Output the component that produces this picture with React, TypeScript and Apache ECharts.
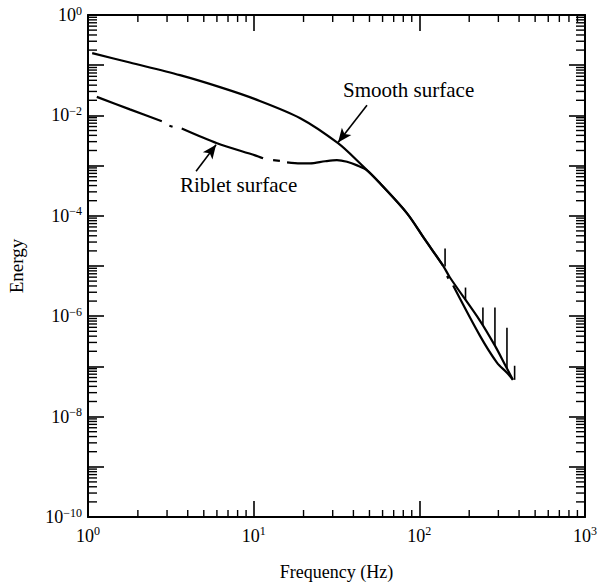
import React, { useEffect, useRef } from "react";
import * as echarts from "echarts";

// Smooth surface spectrum (Hz, energy)
const smoothFreq = [1.06, 1.79, 3.59, 6.26, 10.2, 19.1, 32.3, 43.8, 57.9, 84.3, 108, 139, 153, 232, 286, 329, 367];
const smoothEnergy = [0.174, 0.113, 0.0634, 0.0366, 0.0211, 0.0088, 0.00279, 0.00111, 4.43e-4, 1.12e-4, 3.38e-5, 1.02e-5, 5.9e-6, 8.2e-7, 2.59e-7, 1.08e-7, 5.4e-8];

// Riblet surface spectrum, drawn as dash-dot segments
const ribletSeg1 = [[1.13, 0.0234], [1.79, 0.0132], [2.79, 0.00766]];
const ribletSeg2 = [[3.1, 0.00622], [3.24, 0.00594]];
const ribletSeg3 = [[3.68, 0.00548], [6.01, 0.00279], [10.2, 0.0016], [11.4, 0.0014]];
const ribletSeg4 = [[13.1, 0.00128], [14.4, 0.00124]];
const ribletSeg5 = [
  [15.9, 0.00116], [19.1, 0.00111], [21.9, 0.00111], [27, 0.00122], [31.8, 0.00128],
  [36.6, 0.00119], [42.1, 0.00101], [48.3, 8.05e-4], [57.9, 4.43e-4], [84.3, 1.12e-4],
  [108, 3.38e-5], [139, 1.02e-5],
];
const ribletSeg6 = [[147, 6.3e-6], [150, 5.6e-6]];
const ribletSeg7 = [[160, 4.08e-6], [232, 4.1e-7], [294, 1.19e-7], [338, 7.5e-8], [367, 5.4e-8]];
const ribletSegments = [ribletSeg1, ribletSeg2, ribletSeg3, ribletSeg4, ribletSeg5, ribletSeg6, ribletSeg7];

// Spikes on the smooth-surface curve at high frequency
const spikeFreq = [143, 190, 242, 286, 338, 376];
const spikeTop = [2.24e-5, 3.72e-6, 1.49e-6, 1.49e-6, 5.9e-7, 1.03e-7];
const spikeBase = [9.8e-6, 2.14e-6, 6.5e-7, 2.59e-7, 9.2e-8, 5.4e-8];

// Axis ranges and minor tick multipliers
const xMin = 1, xMax = 1000;
const yMin = 1e-10, yMax = 1;
const xDecades = [1, 10, 100];
const yDecades = [1e-10, 1e-9, 1e-8, 1e-7, 1e-6, 1e-5, 1e-4, 1e-3, 1e-2, 1e-1];
const minorMultipliers = [2, 3, 4, 5, 6, 7, 8, 9];

// Annotation arrows (tail -> tip) in data coordinates
const smoothArrow = [[48.3, 0.016], [32.3, 0.0029]];
const ribletArrow = [[4.49, 7.7e-4], [5.93, 0.0026]];

const FONT = "Liberation Serif";

function supLabel(v: number) {
  const e = Math.round(Math.log10(v));
  const s = e < 0 ? "\u2212" + -e : String(e);
  return `{b|10}{s|${s}}`;
}

const richLabel = {
  b: { fontFamily: FONT, fontSize: 18, color: "#000" },
  s: { fontFamily: FONT, fontSize: 12, color: "#000", verticalAlign: "bottom", padding: [0, 0, 9, 0] },
};

export default function App() {
  const ref = useRef<HTMLDivElement>(null);
  useEffect(() => {
    if (!ref.current) return;
    const chart = echarts.init(ref.current, undefined, { renderer: "svg" });

    const tickData: number[][] = [];
    xDecades.forEach((d) => minorMultipliers.forEach((m) => tickData.push([d * m, 1e-5, 0])));
    yDecades.forEach((d) => minorMultipliers.forEach((m) => tickData.push([10, d * m, 1])));

    const spikeSeries = spikeFreq.map((f, i) => ({
      type: "line",
      data: [[f, spikeBase[i]], [f, spikeTop[i]]],
      showSymbol: false,
      symbol: "none",
      lineStyle: { color: "#000", width: 1.6 },
      silent: true,
    }));

    const ribletSeries = ribletSegments.map((seg) => ({
      type: "line",
      data: seg,
      smooth: 0.3,
      showSymbol: false,
      symbol: "none",
      lineStyle: { color: "#000", width: 2.2 },
      silent: true,
    }));

    const axisCommonX = {
      type: "log",
      logBase: 10,
      min: xMin,
      max: xMax,
      interval: 1,
      splitNumber: 3,
      splitLine: { show: false },
      axisLine: { show: true, onZero: false, lineStyle: { color: "#000", width: 2 } },
      axisTick: { show: true, inside: true, length: 16, lineStyle: { color: "#000", width: 1.6 } },
    };
    const axisCommonY = {
      type: "log",
      logBase: 10,
      min: yMin,
      max: yMax,
      interval: 1,
      splitNumber: 10,
      splitLine: { show: false },
      axisLine: { show: true, onZero: false, lineStyle: { color: "#000", width: 2 } },
      axisTick: { show: true, inside: true, length: 16, lineStyle: { color: "#000", width: 1.6 } },
    };

    chart.setOption({
      animation: false,
      backgroundColor: "#fff",
      grid: { left: 88, right: 14, top: 15, bottom: 68, containLabel: false, outerBoundsMode: "none" },
      xAxis: [
        {
          ...axisCommonX,
          position: "bottom",
          name: "Frequency (Hz)",
          nameLocation: "middle",
          nameGap: 46,
          nameTextStyle: { fontFamily: FONT, fontSize: 18, color: "#000" },
          axisLabel: { show: true, margin: 8, formatter: supLabel, rich: richLabel },
        },
        { ...axisCommonX, position: "top", axisLabel: { show: false } },
      ],
      yAxis: [
        {
          ...axisCommonY,
          position: "left",
          name: "Energy",
          nameLocation: "middle",
          nameGap: 62,
          nameRotate: 90,
          nameTextStyle: { fontFamily: FONT, fontSize: 19, color: "#000" },
          axisLabel: {
            show: true,
            margin: 6,
            showMinLabel: true,
            showMaxLabel: true,
            formatter: (v: number) => {
              const e = Math.round(Math.log10(v));
              return e % 2 === 0 ? supLabel(v) : "";
            },
            rich: richLabel,
          },
        },
        { ...axisCommonY, position: "right", axisLabel: { show: false } },
      ],
      series: [
        {
          type: "custom",
          silent: true,
          clip: false,
          data: tickData,
          encode: { x: 0, y: 1 },
          renderItem: (params: any, api: any) => {
            const cs = params.coordSys;
            const kind = api.value(2);
            const st = { stroke: "#000", lineWidth: 1.4 };
            if (kind === 0) {
              const x = api.coord([api.value(0), 1e-5])[0];
              const b = cs.y + cs.height;
              return {
                type: "group",
                children: [
                  { type: "line", shape: { x1: x, y1: b, x2: x, y2: b - 7 }, style: st },
                  { type: "line", shape: { x1: x, y1: cs.y, x2: x, y2: cs.y + 7 }, style: st },
                ],
              };
            }
            const y = api.coord([10, api.value(1)])[1];
            const r = cs.x + cs.width;
            return {
              type: "group",
              children: [
                { type: "line", shape: { x1: cs.x, y1: y, x2: cs.x + 9, y2: y }, style: st },
                { type: "line", shape: { x1: r, y1: y, x2: r - 9, y2: y }, style: st },
              ],
            };
          },
        },
        {
          type: "line",
          name: "Smooth surface",
          data: smoothFreq.map((f, i) => [f, smoothEnergy[i]]),
          smooth: 0.3,
          showSymbol: false,
          symbol: "none",
          lineStyle: { color: "#000", width: 2.2 },
          silent: true,
          markLine: {
            silent: true,
            symbol: ["none", "arrow"],
            symbolSize: [9, 14],
            label: { show: false },
            lineStyle: { color: "#000", width: 1.6, type: "solid" },
            data: [
              [{ coord: smoothArrow[0] }, { coord: smoothArrow[1] }],
              [{ coord: ribletArrow[0] }, { coord: ribletArrow[1] }],
            ],
          },
        },
        ...ribletSeries,
        ...spikeSeries,
      ],
      graphic: [
        {
          type: "text",
          left: 343,
          top: 79,
          style: { text: "Smooth surface", fontFamily: FONT, fontSize: 21, fill: "#000" },
        },
        {
          type: "text",
          left: 180,
          top: 174,
          style: { text: "Riblet surface", fontFamily: FONT, fontSize: 21, fill: "#000" },
        },
      ],
    });
    return () => chart.dispose();
  }, []);
  return (
    <div
      ref={ref}
      style={{ position: "fixed", left: 0, top: 0, width: 599, height: 585, background: "#fff" }}
    />
  );
}
